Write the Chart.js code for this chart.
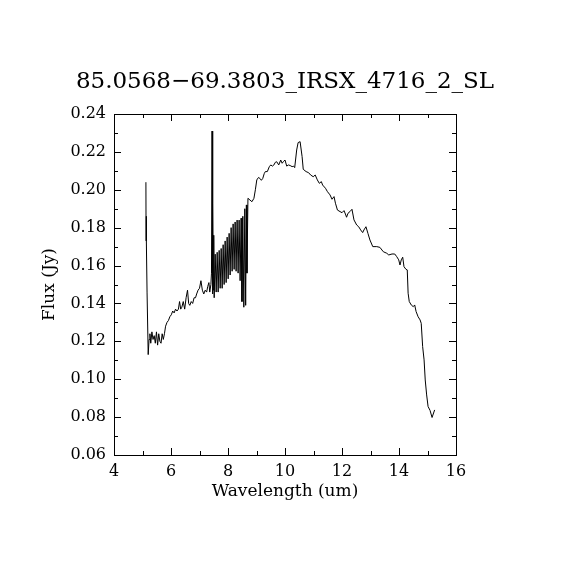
<!DOCTYPE html>
<html>
<head>
<meta charset="utf-8">
<script src="https://cdn.jsdelivr.net/npm/chart.js@4/dist/chart.umd.min.js"></script>
<style>
  html, body { margin: 0; padding: 0; background: #fff; }
  #c { display: block; }
</style>
</head>
<body>
<canvas id="c" width="570" height="570"></canvas>
<script>
// Spectrum
var wavelength = [
    5.12, 5.125, 5.13, 5.14, 5.16, 5.20, 5.23, 5.26, 5.29, 5.33,
    5.37, 5.41, 5.45, 5.49, 5.53, 5.57, 5.61, 5.65, 5.69, 5.73,
    5.77, 5.81, 5.86, 5.91, 5.96, 6.01, 6.06, 6.11, 6.16, 6.21,
    6.26, 6.30, 6.34, 6.38, 6.43, 6.48, 6.53, 6.58, 6.62, 6.66,
    6.71, 6.76, 6.81, 6.86, 6.90, 6.95, 7.00, 7.05, 7.10, 7.15,
    7.20, 7.25, 7.29, 7.33, 7.36, 7.40, 7.42, 7.44, 7.455, 7.47,
    7.485, 7.50, 7.515, 7.55, 7.585, 7.62, 7.655, 7.69, 7.725, 7.76,
    7.795, 7.83, 7.865, 7.90, 7.935, 7.97, 8.005, 8.04, 8.075, 8.11,
    8.145, 8.18, 8.215, 8.25, 8.285, 8.32, 8.355, 8.39, 8.425, 8.46,
    8.49, 8.52, 8.555, 8.59, 8.62, 8.645, 8.665, 8.70, 8.77, 8.84,
    8.91, 8.96, 9.01, 9.07, 9.12, 9.17, 9.22, 9.27, 9.31, 9.38,
    9.45, 9.50, 9.56, 9.61, 9.66, 9.71, 9.78, 9.85, 9.90, 9.95,
    10.00, 10.06, 10.12, 10.18, 10.25, 10.30, 10.34, 10.41, 10.46, 10.53,
    10.60, 10.64, 10.74, 10.83, 10.90, 10.99, 11.06, 11.135, 11.205, 11.275,
    11.32, 11.42, 11.49, 11.58, 11.65, 11.72, 11.77, 11.84, 11.93, 12.00,
    12.07, 12.12, 12.16, 12.21, 12.28, 12.35, 12.42, 12.515, 12.585, 12.655,
    12.725, 12.77, 12.84, 12.91, 12.98, 13.08, 13.22, 13.33, 13.45, 13.57,
    13.64, 13.755, 13.85, 13.92, 13.99, 14.035, 14.08, 14.13, 14.175, 14.245,
    14.29, 14.32, 14.36, 14.43, 14.50, 14.55, 14.60, 14.67, 14.74, 14.78,
    14.83, 14.88, 14.92, 14.97, 15.02, 15.09, 15.16, 15.25
];
var flux = [
    0.204, 0.173, 0.186, 0.173, 0.146, 0.113, 0.121, 0.124, 0.119, 0.125,
    0.121, 0.123, 0.119, 0.125, 0.118, 0.124, 0.120, 0.119, 0.124, 0.121,
    0.124, 0.128, 0.130, 0.131, 0.133, 0.134, 0.136, 0.135, 0.137, 0.136,
    0.137, 0.141, 0.137, 0.138, 0.141, 0.137, 0.143, 0.147, 0.140, 0.139,
    0.141, 0.140, 0.143, 0.143, 0.145, 0.147, 0.148, 0.152, 0.147, 0.145,
    0.147, 0.146, 0.149, 0.151, 0.146, 0.150, 0.156, 0.231, 0.145, 0.193,
    0.147, 0.176, 0.143, 0.166, 0.146, 0.167, 0.146, 0.168, 0.148, 0.169,
    0.148, 0.171, 0.150, 0.173, 0.151, 0.175, 0.153, 0.177, 0.155, 0.180,
    0.157, 0.182, 0.158, 0.183, 0.157, 0.184, 0.156, 0.184, 0.152, 0.185,
    0.141, 0.186, 0.138, 0.190, 0.139, 0.192, 0.156, 0.1955, 0.1946, 0.1937,
    0.1955, 0.200, 0.2052, 0.2065, 0.2060, 0.2050, 0.2060, 0.2085, 0.2096, 0.2096,
    0.2122, 0.2131, 0.2125, 0.2131, 0.2145, 0.2148, 0.2131, 0.2157, 0.2140, 0.2150,
    0.2157, 0.2125, 0.2131, 0.2128, 0.2122, 0.2125, 0.2117, 0.2210, 0.2249, 0.2254,
    0.2175, 0.2108, 0.2096, 0.2090, 0.2078, 0.2069, 0.2078, 0.2052, 0.2034, 0.2043,
    0.2025, 0.2008, 0.1990, 0.1973, 0.1950, 0.1964, 0.1929, 0.1893, 0.1885, 0.1879,
    0.1890, 0.1872, 0.1855, 0.1876, 0.1885, 0.1897, 0.1841, 0.1814, 0.1805, 0.1788,
    0.1774, 0.1788, 0.1805, 0.1770, 0.1735, 0.1700, 0.1700, 0.1696, 0.1673, 0.1665,
    0.1656, 0.1661, 0.1661, 0.1647, 0.1630, 0.1603, 0.1630, 0.1644, 0.1594, 0.1580,
    0.1577, 0.1454, 0.1410, 0.1392, 0.1383, 0.1392, 0.1357, 0.1330, 0.1313, 0.1295,
    0.1172, 0.1102, 0.0996, 0.0917, 0.0856, 0.0835, 0.0798, 0.0838
];

var titleText = '85.0568\u221269.3803_IRSX_4716_2_SL';
var xLabel = 'Wavelength (um)';
var yLabel = 'Flux (Jy)';
var xRange = [4, 16];
var yRange = [0.06, 0.24];

var points = [];
for (var i = 0; i < wavelength.length; i++) {
    points.push({x: wavelength[i], y: flux[i]});
}

var serif = '"DejaVu Serif", "Liberation Serif", serif';

/**
 * Box around the plot plus inward ticks on all four sides.
 */
var frameTicks = {
    id: 'frameTicks',
    afterDraw: function (chart) {
        var ctx = chart.ctx;
        var a = chart.chartArea;
        var xs = chart.scales.x;
        var ys = chart.scales.y;
        ctx.save();
        ctx.strokeStyle = '#000';
        ctx.lineWidth = 1;
        ctx.strokeRect(a.left + 0.5, a.top + 0.5, a.right - a.left, a.bottom - a.top);
        ctx.beginPath();
        for (var v = xRange[0]; v <= xRange[1]; v += 1) {
            var len = (v % 2 === 0) ? 7 : 4;
            var px = Math.round(xs.getPixelForValue(v)) + 0.5;
            ctx.moveTo(px, a.bottom); ctx.lineTo(px, a.bottom - len);
            ctx.moveTo(px, a.top); ctx.lineTo(px, a.top + len);
        }
        for (var k = 0; k <= 18; k++) {
            var val = yRange[0] + k * 0.01;
            var l2 = (k % 2 === 0) ? 7 : 4;
            var py = Math.round(ys.getPixelForValue(val)) + 0.5;
            ctx.moveTo(a.left, py); ctx.lineTo(a.left + l2, py);
            ctx.moveTo(a.right, py); ctx.lineTo(a.right - l2, py);
        }
        ctx.stroke();
        ctx.restore();
    }
};

new Chart(document.getElementById('c'), {
    type: 'line',
    data: {
        datasets: [{
            data: points,
            borderColor: '#000',
            borderWidth: 1,
            pointRadius: 0,
            tension: 0,
            fill: false
        }]
    },
    options: {
        responsive: false,
        animation: false,
        devicePixelRatio: 1,
        layout: { padding: 0 },
        plugins: {
            legend: { display: false },
            tooltip: { enabled: false },
            title: {
                display: true,
                text: titleText,
                color: '#000',
                font: { family: serif, size: 23, weight: 'normal', lineHeight: 1.2 },
                padding: { top: 68, bottom: 18.4 }
            }
        },
        scales: {
            x: {
                type: 'linear',
                min: xRange[0],
                max: xRange[1],
                afterFit: function (s) { s.height = 115; },
                grid: { display: false, drawTicks: false },
                border: { display: false },
                ticks: {
                    stepSize: 2,
                    padding: 7,
                    color: '#000',
                    font: { family: serif, size: 16 },
                    maxRotation: 0
                },
                title: {
                    display: true,
                    text: xLabel,
                    color: '#000',
                    font: { family: serif, size: 17, lineHeight: 1.2 },
                    padding: { top: 0, bottom: 67.8 }
                }
            },
            y: {
                type: 'linear',
                min: yRange[0],
                max: yRange[1],
                afterFit: function (s) { s.width = 114; },
                grid: { display: false, drawTicks: false },
                border: { display: false },
                ticks: {
                    stepSize: 0.02,
                    padding: 8,
                    color: '#000',
                    font: { family: serif, size: 16 },
                    callback: function (v) { return v.toFixed(2); }
                },
                title: {
                    display: true,
                    text: yLabel,
                    color: '#000',
                    font: { family: serif, size: 17, lineHeight: 1.2 },
                    padding: { top: 39, bottom: 0 }
                }
            },
            // empty right-hand axis, only reserves the margin
            yRight: {
                type: 'linear',
                position: 'right',
                min: yRange[0],
                max: yRange[1],
                afterFit: function (s) { s.width = 114; },
                grid: { display: false, drawTicks: false },
                border: { display: false },
                ticks: { display: false }
            }
        }
    },
    plugins: [frameTicks]
});
</script>
</body>
</html>
